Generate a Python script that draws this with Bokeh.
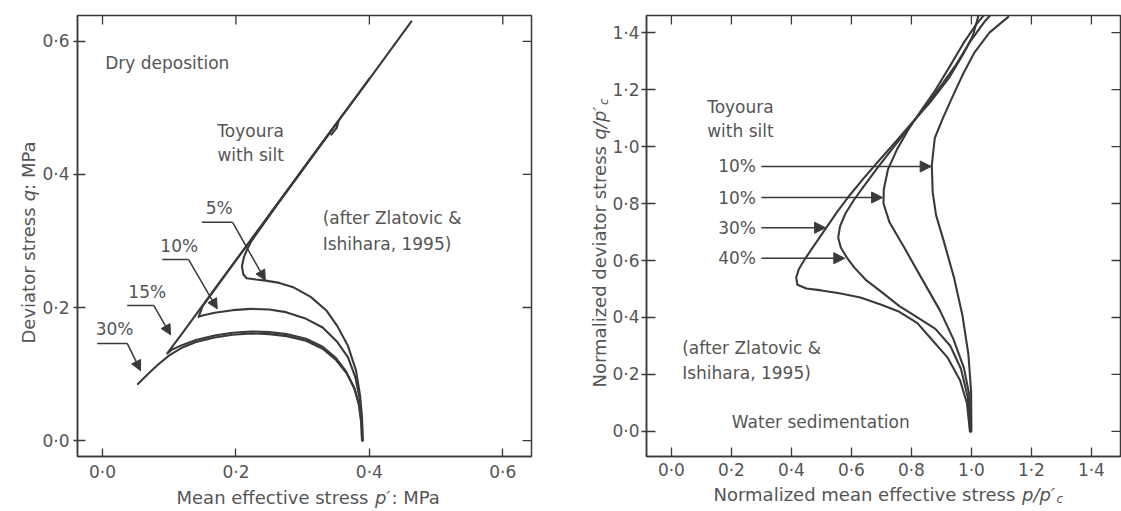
import math
from bokeh.plotting import figure
from bokeh.layouts import row
from bokeh.models import (Range1d, FixedTicker, CustomJSTickFormatter,
                          Label, Arrow, NormalHead)
from bokeh.embed import file_html
from bokeh.resources import INLINE

# ---------------- data ----------------
# Left panel: dry deposition, p' and q in MPa
dry_5_p = [0.390, 0.389, 0.386, 0.380, 0.368, 0.352, 0.336, 0.312, 0.287, 0.265, 0.247, 0.230,
           0.216, 0.211, 0.209, 0.212, 0.218, 0.224, 0.260, 0.300, 0.354, 0.351, 0.343]
dry_5_q = [0.000, 0.035, 0.068, 0.105, 0.142, 0.172, 0.195, 0.216, 0.230, 0.237, 0.240, 0.242,
           0.244, 0.250, 0.262, 0.276, 0.290, 0.301, 0.352, 0.407, 0.481, 0.470, 0.460]

dry_10_p = [0.389, 0.388, 0.385, 0.379, 0.368, 0.352, 0.330, 0.303, 0.275, 0.250, 0.222, 0.195,
            0.168, 0.150, 0.144, 0.150, 0.200, 0.260, 0.320, 0.400]
dry_10_q = [0.000, 0.030, 0.065, 0.095, 0.125, 0.148, 0.170, 0.184, 0.193, 0.197, 0.198, 0.196,
            0.192, 0.188, 0.186, 0.202, 0.271, 0.353, 0.435, 0.544]

dry_15_p = [0.389, 0.388, 0.384, 0.377, 0.365, 0.350, 0.330, 0.305, 0.276, 0.250, 0.222, 0.195,
            0.168, 0.140, 0.118, 0.103, 0.097, 0.120, 0.180, 0.250, 0.320, 0.390, 0.463]
dry_15_q = [0.000, 0.025, 0.055, 0.080, 0.104, 0.124, 0.141, 0.153, 0.160, 0.163, 0.164, 0.162,
            0.158, 0.151, 0.143, 0.136, 0.131, 0.162, 0.244, 0.339, 0.435, 0.530, 0.630]

dry_30_p = [0.390, 0.389, 0.385, 0.378, 0.366, 0.350, 0.330, 0.305, 0.276, 0.250, 0.222, 0.195,
            0.168, 0.140, 0.118, 0.100, 0.083, 0.067, 0.053]
dry_30_q = [0.000, 0.022, 0.052, 0.077, 0.101, 0.121, 0.138, 0.150, 0.157, 0.160, 0.161, 0.159,
            0.155, 0.148, 0.139, 0.128, 0.114, 0.099, 0.085]

# Right panel: water sedimentation, normalized p/p'c and q/p'c
wet_a_p = [1.000, 0.999, 0.990, 0.970, 0.942, 0.910, 0.882, 0.871, 0.868, 0.878, 0.905, 0.935,
           0.970, 1.010, 1.060, 1.123]
wet_a_q = [0.000, 0.140, 0.270, 0.408, 0.540, 0.660, 0.760, 0.840, 0.934, 1.030, 1.100, 1.170,
           1.250, 1.330, 1.400, 1.455]

wet_b_p = [0.998, 0.993, 0.975, 0.940, 0.895, 0.837, 0.779, 0.727, 0.707, 0.708, 0.722, 0.752,
           0.789, 0.830, 0.878, 0.926, 0.973, 1.015, 1.047]
wet_b_q = [0.000, 0.128, 0.223, 0.324, 0.425, 0.532, 0.640, 0.734, 0.800, 0.850, 0.920, 0.990,
           1.058, 1.123, 1.195, 1.278, 1.362, 1.427, 1.468]

wet_c_p = [0.997, 0.988, 0.965, 0.930, 0.880, 0.820, 0.760, 0.700, 0.650, 0.610, 0.585, 0.565,
           0.556, 0.562, 0.580, 0.610, 0.646, 0.688, 0.735, 0.788, 0.842, 0.902, 0.949, 0.997,
           1.045, 1.097]
wet_c_q = [0.000, 0.120, 0.220, 0.300, 0.360, 0.400, 0.440, 0.490, 0.530, 0.575, 0.610, 0.645,
           0.680, 0.720, 0.765, 0.815, 0.867, 0.927, 0.990, 1.062, 1.135, 1.218, 1.288, 1.370,
           1.440, 1.500]

wet_d_p = [0.995, 0.985, 0.962, 0.920, 0.870, 0.820, 0.760, 0.700, 0.630, 0.560, 0.500, 0.450,
           0.420, 0.416, 0.425, 0.445, 0.477, 0.513, 0.552, 0.595, 0.642, 0.693, 0.747, 0.806,
           0.866, 0.926, 0.973, 1.005, 1.025]
wet_d_q = [0.000, 0.100, 0.180, 0.260, 0.320, 0.380, 0.420, 0.445, 0.470, 0.485, 0.495, 0.502,
           0.515, 0.540, 0.570, 0.605, 0.655, 0.710, 0.770, 0.830, 0.890, 0.952, 1.016, 1.088,
           1.160, 1.242, 1.325, 1.390, 1.465]

left_ticks = [0.0, 0.2, 0.4, 0.6]
right_ticks = [0.0, 0.2, 0.4, 0.6, 0.8, 1.0, 1.2, 1.4]

# ---------------- style ----------------
FONT = "DejaVu Sans"
TEXT = "#555555"
INK = "#3a3a3a"
TSIZE = "17px"


def fmt():
    return CustomJSTickFormatter(code="return tick.toFixed(1).replace('.', '\u00b7');")


def base_fig(xr, yr, fw, fh, bl, br, bt, bb):
    p = figure(frame_width=fw, frame_height=fh, x_range=Range1d(*xr), y_range=Range1d(*yr),
               output_backend="svg", toolbar_location=None,
               min_border_left=bl, min_border_right=br, min_border_top=bt, min_border_bottom=bb)
    p.grid.visible = False
    p.outline_line_color = INK
    p.outline_line_width = 1.5
    p.background_fill_color = "white"
    p.border_fill_color = "white"
    return p


def style_axis(ax, ticks, tin, tout, standoff=4):
    ax.ticker = FixedTicker(ticks=ticks)
    ax.formatter = fmt()
    ax.major_tick_in = tin
    ax.major_tick_out = tout
    ax.minor_tick_line_color = None
    ax.major_tick_line_color = INK
    ax.major_tick_line_width = 1.3
    ax.axis_line_color = INK
    ax.axis_line_width = 1.5
    ax.major_label_text_font = FONT
    ax.major_label_text_font_size = TSIZE
    ax.major_label_text_color = TEXT
    ax.major_label_standoff = standoff


def mirror_ticks(p, ticks, x_edge, y_edge, length):
    # inward tick marks on the top and right frame edges (outer half is clipped by the frame)
    p.scatter(ticks, [y_edge] * len(ticks), marker="dash", size=2 * length, angle=math.pi / 2,
              line_color=INK, line_width=1.3)
    p.scatter([x_edge] * len(ticks), ticks, marker="dash", size=2 * length,
              line_color=INK, line_width=1.3)


def note(p, x, y, txt, align="left", size=TSIZE, angle=0.0, baseline="middle", style="normal"):
    p.add_layout(Label(x=x, y=y, text=txt, text_font=FONT, text_font_size=size,
                       text_color=TEXT, text_align=align, text_baseline=baseline,
                       text_font_style=style, angle=angle))


def arrow(p, x0, y0, x1, y1, size=10):
    p.add_layout(Arrow(end=NormalHead(size=size, fill_color=INK, line_color=INK, line_width=1),
                       x_start=x0, y_start=y0, x_end=x1, y_end=y1,
                       line_color=INK, line_width=1.5))


# ---------------- left panel ----------------
LX = (-0.0375, 0.643)
LY = (-0.024, 0.639)
p1 = base_fig(LX, LY, 454, 441, 77, 29, 15, 55)
style_axis(p1.xaxis[0], left_ticks, 8, 0, standoff=5)
style_axis(p1.yaxis[0], left_ticks, 8, 4, standoff=4)
mirror_ticks(p1, left_ticks, LX[1], LY[1], 9)

for xs, ys in ((dry_30_p, dry_30_q), (dry_15_p, dry_15_q), (dry_10_p, dry_10_q), (dry_5_p, dry_5_q)):
    p1.line(xs, ys, line_color=INK, line_width=2.1, line_join="round", line_cap="round")

note(p1, 0.004, 0.568, "Dry deposition")
note(p1, 0.222, 0.465, "Toyoura", align="center")
note(p1, 0.222, 0.430, "with silt", align="center")
note(p1, 0.330, 0.334, "(after Zlatovic &")
note(p1, 0.330, 0.296, "Ishihara, 1995)")

# leader lines: (label, text x, text y, line start x, bend x, line y, tip x, tip y)
leaders = [
    ("5%", 0.175, 0.350, 0.149, 0.195, 0.328, 0.244, 0.241),
    ("10%", 0.115, 0.293, 0.0895, 0.129, 0.272, 0.172, 0.198),
    ("15%", 0.067, 0.223, 0.037, 0.077, 0.203, 0.102, 0.159),
    ("30%", 0.018, 0.167, -0.008, 0.037, 0.146, 0.057, 0.105),
]
for lab, tx, ty, x0, xb, ly, xt, yt in leaders:
    note(p1, tx, ty, lab, align="center")
    p1.line([x0, xb], [ly, ly], line_color=INK, line_width=1.5)
    arrow(p1, xb, ly, xt, yt)

# ---------------- right panel ----------------
RX = (-0.083, 1.497)
RY = (-0.088, 1.460)
p2 = base_fig(RX, RY, 474, 441, 86, 1, 15, 55)
style_axis(p2.xaxis[0], right_ticks, 9, 0, standoff=3)
style_axis(p2.yaxis[0], right_ticks, 9, 5, standoff=2)
mirror_ticks(p2, right_ticks, RX[1], RY[1], 9)

for xs, ys in ((wet_d_p, wet_d_q), (wet_c_p, wet_c_q), (wet_b_p, wet_b_q), (wet_a_p, wet_a_q)):
    p2.line(xs, ys, line_color=INK, line_width=2.1, line_join="round", line_cap="round")

note(p2, 0.230, 1.140, "Toyoura", align="center")
note(p2, 0.230, 1.055, "with silt", align="center")
note(p2, 0.036, 0.294, "(after Zlatovic &")
note(p2, 0.036, 0.205, "Ishihara, 1995)")
note(p2, 0.498, 0.033, "Water sedimentation", align="center")

# horizontal arrows: (label, y, tip x)
wet_arrows = [("10%", 0.930, 0.866), ("10%", 0.821, 0.704), ("30%", 0.715, 0.514), ("40%", 0.608, 0.578)]
for lab, yy, xt in wet_arrows:
    note(p2, 0.282, yy, lab, align="right")
    arrow(p2, 0.300, yy, xt, yy, size=11)

# ---------------- axis titles (transparent overlay in page pixels) ----------------
p3 = figure(width=1121, height=511, x_range=Range1d(0, 1121), y_range=Range1d(511, 0),
            x_axis_type=None, y_axis_type=None, toolbar_location=None, output_backend="svg",
            min_border=0, outline_line_color=None,
            background_fill_color=None, border_fill_color=None)
p3.grid.visible = False
p3.styles = {"position": "absolute", "left": "0px", "top": "0px"}

B = "alphabetic"
V = math.pi / 2
# left x title
note(p3, 176, 497, "Mean effective stress ", size="18px", baseline=B)
note(p3, 374.4, 497, "p\u2032", size="18px", baseline=B, style="italic")
note(p3, 391, 497, ": MPa", size="18px", baseline=B)
# left y title
note(p3, 28, 343, "Deviator stress ", size="18px", baseline=B, angle=V)
note(p3, 28, 200.8, "q", size="18px", baseline=B, angle=V, style="italic")
note(p3, 28, 189.4, ": MPa", size="18px", baseline=B, angle=V)
# right x title
note(p3, 713, 494, "Normalized mean effective stress ", size="18px", baseline=B)
note(p3, 1021.5, 494, "p/p\u2032", size="18px", baseline=B, style="italic")
note(p3, 1056, 498, "c", size="12px", baseline=B, style="italic")
# right y title
note(p3, 599, 387, "Normalized deviator stress ", size="18px", baseline=B, angle=V)
note(p3, 599, 139.1, "q/p\u2032", size="18px", baseline=B, angle=V, style="italic")
note(p3, 603, 104.5, "c", size="12px", baseline=B, angle=V, style="italic")

open("out.html", "w").write(file_html([row(p1, p2), p3], INLINE))
